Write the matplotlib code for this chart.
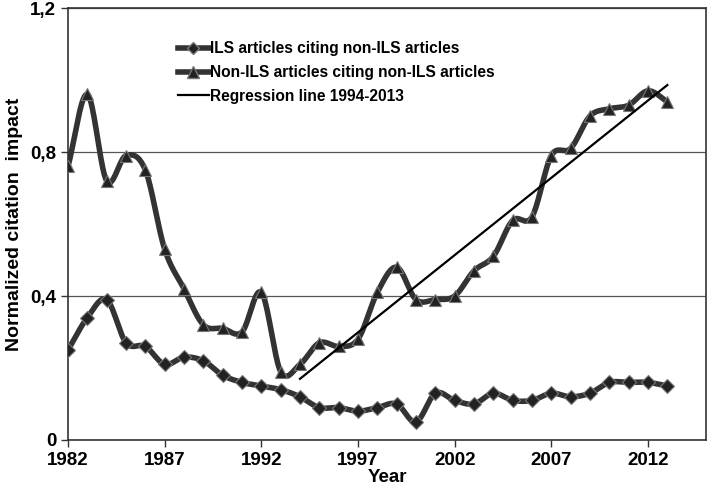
import matplotlib.pyplot as plt
import numpy as np

plt.rcParams['font.family'] = ['Liberation Sans', 'DejaVu Sans']

years = list(range(1982, 2014))
ils = [0.25, 0.34, 0.39, 0.27, 0.26, 0.21, 0.23, 0.22, 0.18, 0.16, 0.15, 0.14,
       0.12, 0.09, 0.09, 0.08, 0.09, 0.10, 0.05, 0.13, 0.11, 0.10, 0.13, 0.11,
       0.11, 0.13, 0.12, 0.13, 0.16, 0.16, 0.16, 0.15]
non_ils = [0.76, 0.96, 0.72, 0.79, 0.75, 0.53, 0.42, 0.32, 0.31, 0.30, 0.41, 0.19,
           0.21, 0.27, 0.26, 0.28, 0.41, 0.48, 0.39, 0.39, 0.40, 0.47, 0.51, 0.61,
           0.62, 0.79, 0.81, 0.90, 0.92, 0.93, 0.97, 0.94]
xticks = [1982, 1987, 1992, 1997, 2002, 2007, 2012]
yticks = [0, 0.4, 0.8, 1.2]
ytick_labels = ['0', '0,4', '0,8', '1,2']
reg_start, reg_end = 1994, 2013


def smooth(x, y, n=20):
    # Catmull-Rom curve through the points, like Excel's smoothed line
    x = np.asarray(x, float)
    y = np.asarray(y, float)
    px = np.concatenate([[2 * x[0] - x[1]], x, [2 * x[-1] - x[-2]]])
    py = np.concatenate([[2 * y[0] - y[1]], y, [2 * y[-1] - y[-2]]])
    xs, ys = [], []
    t = np.linspace(0, 1, n, endpoint=False)
    for i in range(1, len(px) - 2):
        for p, out in ((px, xs), (py, ys)):
            p0, p1, p2, p3 = p[i - 1], p[i], p[i + 1], p[i + 2]
            out.extend(0.5 * (2 * p1 + (-p0 + p2) * t
                              + (2 * p0 - 5 * p1 + 4 * p2 - p3) * t ** 2
                              + (-p0 + 3 * p1 - 3 * p2 + p3) * t ** 3))
    xs.append(x[-1])
    ys.append(y[-1])
    return xs, ys


fig = plt.figure(figsize=(7.08, 4.92), dpi=100)
ax = fig.add_axes([68 / 708, 52 / 492, 638 / 708, 432 / 492])

line_col = '#333333'
for data, mk, ms, lab in ((ils, 'D', 7, 'ILS articles citing non-ILS articles'),
                          (non_ils, '^', 9, 'Non-ILS articles citing non-ILS articles')):
    sx, sy = smooth(years, data)
    ax.plot(sx, sy, color=line_col, lw=4, solid_capstyle='round', zorder=3)
    ax.plot(years, data, ls='none', marker=mk, ms=ms, color='#222222',
            mec='#777777', mew=0.8, zorder=4)
    ax.plot([], [], color=line_col, lw=4, marker=mk, ms=ms - 1,
            mfc='#222222', mec='#777777', label=lab)

i0 = years.index(reg_start)
i1 = years.index(reg_end) + 1
coef = np.polyfit(years[i0:i1], non_ils[i0:i1], 1)
rx = np.array([reg_start, reg_end])
ax.plot(rx, np.polyval(coef, rx), color='black', lw=1.6, zorder=5,
        label='Regression line 1994-2013')

ax.set_xlim(1982, 2015)
ax.set_ylim(0, 1.2)
ax.set_xticks(xticks)
ax.set_xticklabels([str(v) for v in xticks], fontsize=13.5, fontweight='bold')
ax.set_yticks(yticks)
ax.set_yticklabels(ytick_labels, fontsize=13.5, fontweight='bold')
ax.tick_params(direction='out', length=5, width=1, color='#333333')
ax.yaxis.grid(True, color='#555555', lw=0.9)
ax.set_axisbelow(True)
for s in ax.spines.values():
    s.set_color('#333333')
    s.set_linewidth(1.2)

ax.set_xlabel('Year', fontsize=13.5, fontweight='bold', labelpad=0)
ax.set_ylabel('Normalized citation  impact', fontsize=14, fontweight='bold', labelpad=5)

leg = ax.legend(loc='upper left', bbox_to_anchor=(0.15, 0.955), frameon=False,
                prop={'weight': 'bold', 'size': 11.2}, handlelength=2.0,
                handletextpad=0.1, labelspacing=0.55)

fig.savefig('out.png', dpi=100)
